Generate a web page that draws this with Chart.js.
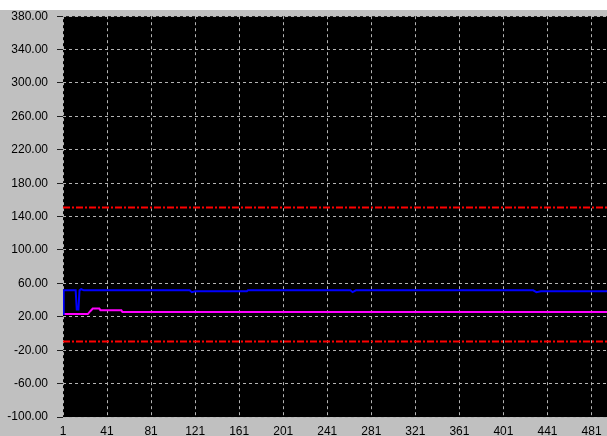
<!DOCTYPE html>
<html lang="en">
    <head>
        <meta charset="UTF-8" />
        <title>Trend chart</title>
        <script src="https://cdn.jsdelivr.net/npm/chart.js"></script>
        <style>
            body {
                margin: 0;
                background: #ffffff;
            }
            #wrap {
                position: absolute;
                left: 0;
                top: 10px;
                width: 607px;
                height: 426px;
                background: #c0c0c0;
                overflow: hidden;
            }
            #myChart {
                display: block;
                margin-top: -10px; /* pull up so plot top sits at y=16 */
            }
        </style>
    </head>
    <body>
        <div id="wrap">
            <canvas id="myChart" width="640" height="455"></canvas>
        </div>

        <script>
            // x tick labels
            const xTicks = [1, 41, 81, 121, 161, 201, 241, 281, 321, 361, 401, 441, 481];

            // blue trace (sample no. / value)
            const blueX = [1, 1.6, 12.5, 13.5, 15, 16, 17.5, 20, 116, 118, 121, 168, 169, 262, 264, 267, 428, 431, 435, 530];
            const blueY = [23.3, 51.7, 51.7, 28.6, 28.6, 51.7, 53, 51.7, 51.7, 49.5, 50.6, 50.6, 51.7, 51.7, 49.5, 51.7, 51.7, 49.5, 50.6, 50.6];

            // magenta trace
            const pinkX = [1, 23.5, 26, 28, 34, 35, 54, 55, 530];
            const pinkY = [23.3, 23.3, 27, 29.8, 29.8, 27.7, 27.7, 25.7, 25.7];

            // alarm limits
            const limitX = [1, 530];
            const upperLimit = [151, 151];
            const lowerLimit = [-9.5, -9.5];

            const pts = (xs, ys) => xs.map((x, i) => ({ x: x, y: ys[i] }));

            const plotBg = {
                id: "plotBg",
                beforeDraw: function (chart) {
                    const a = chart.chartArea;
                    const ctx = chart.ctx;
                    ctx.save();
                    ctx.fillStyle = "#000000";
                    ctx.fillRect(a.left, a.top, a.right - a.left, a.bottom - a.top);
                    ctx.restore();
                },
            };

            const ctx = document.getElementById("myChart").getContext("2d");
            const myChart = new Chart(ctx, {
                type: "line",
                data: {
                    datasets: [
                        {
                            data: pts(blueX, blueY),
                            borderColor: "#0000ff",
                            borderWidth: 2,
                            pointRadius: 0,
                        },
                        {
                            data: pts(pinkX, pinkY),
                            borderColor: "#ff00ff",
                            borderWidth: 2,
                            pointRadius: 0,
                        },
                        {
                            data: pts(limitX, upperLimit),
                            borderColor: "#ff0000",
                            borderWidth: 2,
                            borderDash: [7, 2, 2, 2],
                            pointRadius: 0,
                        },
                        {
                            data: pts(limitX, lowerLimit),
                            borderColor: "#ff0000",
                            borderWidth: 2,
                            borderDash: [7, 2, 2, 2],
                            pointRadius: 0,
                        },
                    ],
                },
                options: {
                    responsive: false,
                    animation: false,
                    layout: {
                        padding: { top: 6, right: 0, bottom: 0, left: 0 },
                    },
                    plugins: {
                        legend: { display: false },
                        tooltip: { enabled: false },
                    },
                    scales: {
                        x: {
                            type: "linear",
                            min: 1,
                            max: 525,
                            afterBuildTicks: function (scale) {
                                scale.ticks = xTicks.map((v) => ({ value: v }));
                            },
                            afterFit: function (scale) {
                                scale.height = 38;
                            },
                            grid: {
                                color: "#b4b4b4",
                                lineWidth: 1,
                                drawTicks: false,
                            },
                            border: { display: false, dash: [3, 3] },
                            ticks: {
                                padding: 7,
                                maxRotation: 0,
                                autoSkip: false,
                                color: "#000000",
                                font: { family: "Liberation Sans", size: 12 },
                                callback: (v) => v,
                            },
                        },
                        y: {
                            min: -100,
                            max: 380,
                            afterFit: function (scale) {
                                scale.width = 63;
                            },
                            grid: {
                                color: "#b4b4b4",
                                lineWidth: 1,
                                tickLength: 6,
                                tickColor: "#202020",
                                tickBorderDash: [],
                            },
                            border: { display: false, dash: [3, 3] },
                            ticks: {
                                stepSize: 40,
                                padding: 9,
                                color: "#000000",
                                font: { family: "Liberation Sans", size: 12 },
                                callback: (v) => v.toFixed(2),
                            },
                        },
                    },
                },
                plugins: [plotBg],
            });
        </script>
    </body>
</html>
